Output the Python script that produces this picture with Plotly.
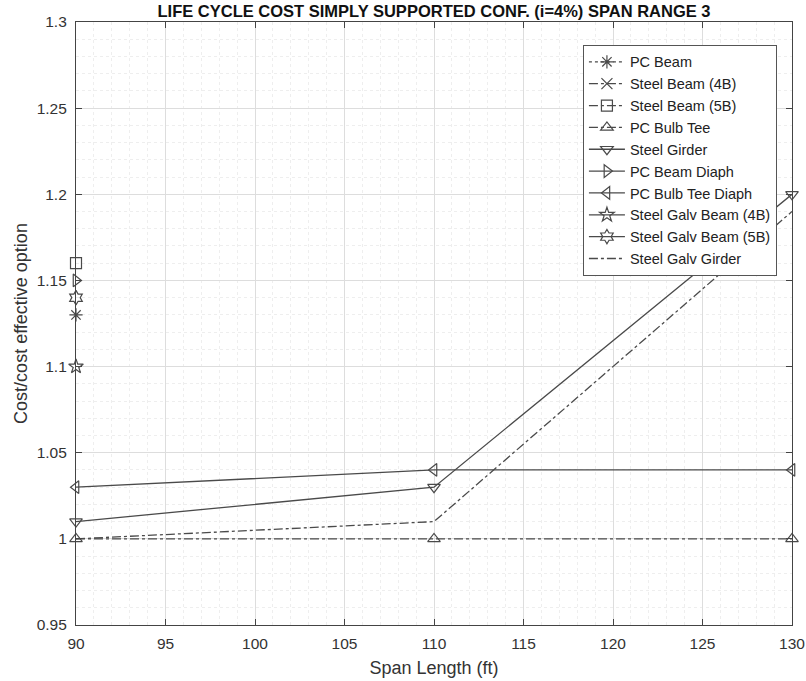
import plotly.graph_objects as go

spans = [90, 110, 130]
names = ["PC Beam", "Steel Beam (4B)", "Steel Beam (5B)", "PC Bulb Tee", "Steel Girder",
         "PC Beam Diaph", "PC Bulb Tee Diaph", "Steel Galv Beam (4B)", "Steel Galv Beam (5B)",
         "Steel Galv Girder"]
pc_beam = [1.13, None, None]
steel_beam_4b = [None, None, None]
steel_beam_5b = [1.16, None, None]
pc_bulb_tee = [1.0, 1.0, 1.0]
steel_girder = [1.01, 1.03, 1.2]
pc_beam_diaph = [1.15, None, None]
pc_bulb_tee_diaph = [1.03, 1.04, 1.04]
steel_galv_beam_4b = [1.10, None, None]
steel_galv_beam_5b = [1.14, None, None]
steel_galv_girder = [1.0, 1.01, 1.19]

x_ticks = [90, 95, 100, 105, 110, 115, 120, 125, 130]
y_ticks = [0.95, 1.0, 1.05, 1.1, 1.15, 1.2, 1.25, 1.3]
y_tick_labels = ["0.95", "1", "1.05", "1.1", "1.15", "1.2", "1.25", "1.3"]

series = [pc_beam, steel_beam_4b, steel_beam_5b, pc_bulb_tee, steel_girder, pc_beam_diaph,
          pc_bulb_tee_diaph, steel_galv_beam_4b, steel_galv_beam_5b, steel_galv_girder]
symbols = ["asterisk-open", "x-thin-open", "square-open", "triangle-up-open", "triangle-down-open",
           "triangle-right-open", "triangle-left-open", "star-open", "hexagram-open", None]
dashes = ["dot", "dashdot", "dashdot", "dashdot", "solid", "solid", "solid", "solid", "solid", "dashdot"]

col = "#4a4a4a"
fig = go.Figure()
for nm, ys, sym, d in zip(names, series, symbols, dashes):
    fig.add_trace(go.Scatter(
        x=spans, y=ys, name=nm,
        mode="lines+markers" if sym else "lines",
        line=dict(color=col, width=1.3, dash=d),
        marker=dict(symbol=sym, size=11, color=col, line=dict(color=col, width=1.2)) if sym else None,
        connectgaps=False, cliponaxis=False,
    ))

fig.update_layout(
    width=806, height=681,
    margin=dict(l=76, r=14, t=22, b=56, autoexpand=False),
    paper_bgcolor="white", plot_bgcolor="white",
    font=dict(family="Liberation Sans, Arial, sans-serif", color="#333333", size=15.5),
    title=dict(text="<b>LIFE CYCLE COST SIMPLY SUPPORTED CONF. (i=4%) SPAN RANGE 3</b>",
               x=0.5, xanchor="center", xref="paper", y=0.983, yref="container", yanchor="middle",
               font=dict(size=16.5, color="#111111")),
    showlegend=True,
    legend=dict(x=0.708, y=0.962, xanchor="left", yanchor="top",
                bgcolor="white", bordercolor="#555555", borderwidth=1,
                font=dict(size=14.5, color="#222222"), tracegroupgap=0,
                itemwidth=36),
    xaxis=dict(range=[90, 130], tickmode="array", tickvals=x_ticks,
               ticks="inside", ticklen=6, tickcolor="#444444", ticklabeloverflow="allow",
               ticklabelstandoff=4,
               showline=True, linecolor="#444444", linewidth=1.2, mirror="ticks",
               showgrid=True, gridcolor="#dddddd", gridwidth=1,
               minor=dict(dtick=1, showgrid=True, gridcolor="#eeeeee", griddash="dot"),
               zeroline=False, automargin=False,
               title=dict(text="Span Length (ft)", font=dict(size=18), standoff=10)),
    yaxis=dict(range=[0.95, 1.3], tickmode="array",
               tickvals=y_ticks, ticktext=y_tick_labels,
               ticks="inside", ticklen=6, tickcolor="#444444", ticklabeloverflow="allow",
               ticklabelstandoff=5,
               showline=True, linecolor="#444444", linewidth=1.2, mirror="ticks",
               showgrid=True, gridcolor="#dddddd", gridwidth=1,
               minor=dict(dtick=0.01, showgrid=True, gridcolor="#eeeeee", griddash="dot"),
               zeroline=False, automargin=False,
               title=dict(text="Cost/cost effective option", font=dict(size=18), standoff=4)),
)

fig.write_html("out.html", config={"displayModeBar": False},
               post_script="document.body.style.margin='0';")
